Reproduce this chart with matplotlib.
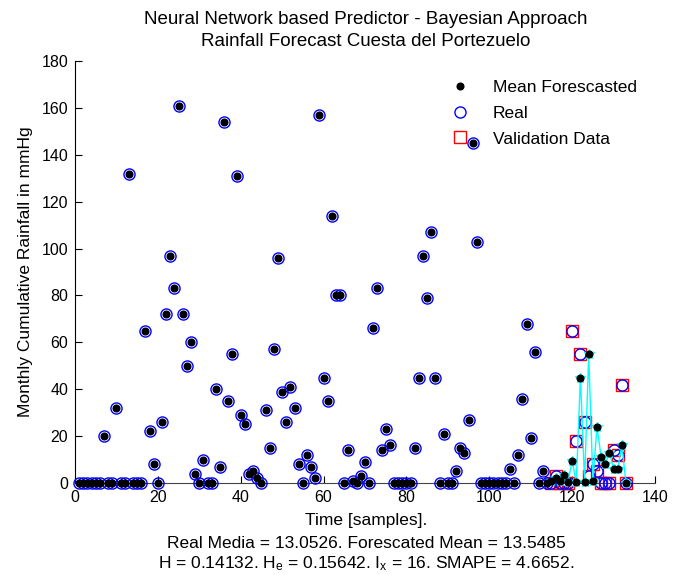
import matplotlib
matplotlib.use("Agg")
import matplotlib.pyplot as plt
from matplotlib.lines import Line2D
import numpy as np

plt.rcParams['font.family'] = ['Liberation Sans', 'DejaVu Sans']
plt.rcParams['mathtext.fontset'] = 'custom'
plt.rcParams['mathtext.rm'] = 'Liberation Sans'
plt.rcParams['mathtext.it'] = 'Liberation Sans:italic'

# ---- data ----
samples = list(range(1, 134))
real = [0, 0, 0, 0, 0, 0, 20, 0, 0, 32,
        0, 0, 132, 0, 0, 0, 65, 22, 8, 0,
        26, 72, 97, 83, 161, 72, 50, 60, 4, 0,
        10, 0, 0, 40, 7, 154, 35, 55, 131, 29,
        25, 4, 5, 2, 0, 31, 15, 57, 96, 39,
        26, 41, 32, 8, 0, 12, 7, 2, 157, 45,
        35, 114, 80, 80, 0, 14, 1, 0, 3, 9,
        0, 66, 83, 14, 23, 16, 0, 0, 0, 0,
        0, 15, 45, 97, 79, 107, 45, 0, 21, 0,
        0, 5, 15, 13, 27, 145, 103, 0, 0, 0,
        0, 0, 0, 0, 6, 0, 12, 36, 68, 19,
        56, 0, 5, 0, 0, 3, 0, 0, 0, 65,
        18, 55, 26, 3, 8, 5, 0, 0, 0, 14,
        12, 42, 0]
forecast = [0, 0, 0, 0, 0, 0, 20, 0, 0, 32,
            0, 0, 132, 0, 0, 0, 65, 22, 8, 0,
            26, 72, 97, 83, 161, 72, 50, 60, 4, 0,
            10, 0, 0, 40, 7, 154, 35, 55, 131, 29,
            25, 4, 5, 2, 0, 31, 15, 57, 96, 39,
            26, 41, 32, 8, 0, 12, 7, 2, 157, 45,
            35, 114, 80, 80, 0, 14, 1, 0, 3, 9,
            0, 66, 83, 14, 23, 16, 0, 0, 0, 0,
            0, 15, 45, 97, 79, 107, 45, 0, 21, 0,
            0, 5, 15, 13, 27, 145, 103, 0, 0, 0,
            0, 0, 0, 0, 6, 0, 12, 36, 68, 19,
            56, 0, 5, 0, 1, 2, 1, 3.5, 0.5, 9.5,
            0.3, 45, 0.5, 55, 1, 24, 11, 8, 13, 6,
            6, 16, 0]
val_start = 115  # first validation sample

title_lines = ["Neural Network based Predictor - Bayesian Approach",
               "Rainfall Forecast Cuesta del Portezuelo"]
xlabel_lines = ["Time [samples].",
                "Real Media = 13.0526. Forescated Mean = 13.5485",
                "H = 0.14132. H$_\\mathrm{e}$ = 0.15642. I$_\\mathrm{x}$ = 16. SMAPE = 4.6652."]
ylabel = "Monthly Cumulative Rainfall in mmHg"
legend_labels = ["Mean Forescasted", "Real", "Validation Data"]

# ---- figure ----
W, H = 682, 575
fig = plt.figure(figsize=(W / 100, H / 100), dpi=100)
ax = fig.add_axes([75 / W, 1 - 483 / H, 580 / W, 422 / H])

x = np.array(samples)
r = np.array(real, dtype=float)
f = np.array(forecast, dtype=float)
vmask = x >= val_start

# validation real squares
ax.plot(x[vmask], r[vmask], 's', ms=8.5, mfc='none', mec='red', mew=1.0,
        clip_on=False, zorder=2)
# real circles
ax.plot(x, r, 'o', ms=8, mfc='none', mec='blue', mew=1.0, clip_on=False, zorder=3)
# forecast validation cyan line with stars
ax.plot(x[vmask], f[vmask], '-', color='cyan', lw=1.0, marker='*', ms=7,
        mfc='cyan', mec='cyan', clip_on=False, zorder=4)
# forecast mean dots
ax.plot(x, f, 'o', ms=4.8, mfc='black', mec='black', clip_on=False, zorder=5)

ax.set_xlim(0, 140)
ax.set_ylim(0, 180)
ax.set_xticks(np.arange(0, 141, 20))
ax.set_yticks(np.arange(0, 181, 20))
ax.tick_params(direction='in', length=5, width=0.8, labelsize=11.5, colors='black', pad=5)
for s in ['top', 'right']:
    ax.spines[s].set_visible(False)
for s in ['left', 'bottom']:
    ax.spines[s].set_linewidth(0.8)
ax.spines['bottom'].set_color('#444444')

ax.set_ylabel(ylabel, fontsize=12.5, labelpad=6)

# legend (no frame)
handles = [Line2D([], [], ls='none', marker='o', ms=4.8, mfc='black', mec='black'),
           Line2D([], [], ls='none', marker='o', ms=8, mfc='none', mec='blue', mew=1.0),
           Line2D([], [], ls='none', marker='s', ms=8, mfc='none', mec='red', mew=1.0)]
ax.legend(handles, legend_labels, loc='upper left', bbox_to_anchor=(0.607, 0.993),
          frameon=False, fontsize=12.5, handlelength=2.0, handletextpad=0.9,
          labelspacing=0.62)

# titles and bottom texts
cx = 366 / W
fig.text(cx, 1 - 19 / H, title_lines[0], ha='center', va='center', fontsize=13.5)
fig.text(cx, 1 - 41 / H, title_lines[1], ha='center', va='center', fontsize=13.5)
fig.text(cx, 1 - 521 / H, xlabel_lines[0], ha='center', va='center', fontsize=12.5)
fig.text(cx, 1 - 543 / H, xlabel_lines[1], ha='center', va='center', fontsize=12.5)
fig.text(cx, 1 - 564 / H, xlabel_lines[2], ha='center', va='center', fontsize=12.5)

fig.savefig("out.png", dpi=100)
